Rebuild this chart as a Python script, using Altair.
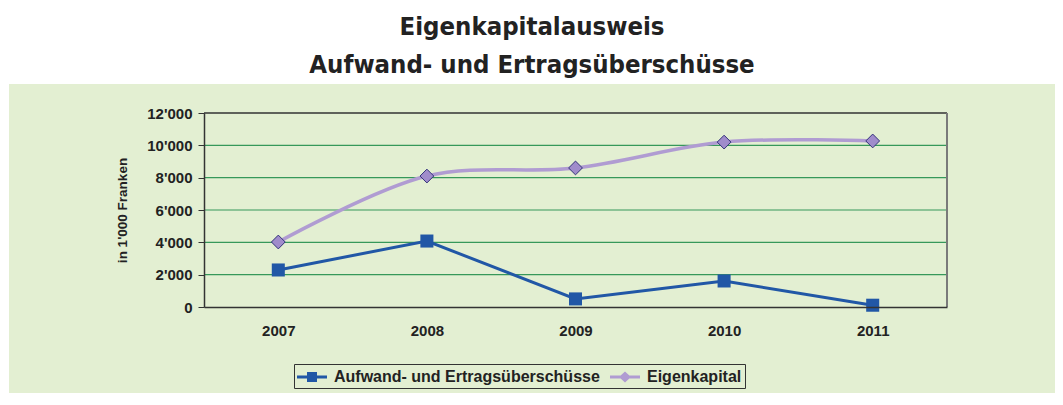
import altair as alt
import pandas as pd

years = ["2007", "2008", "2009", "2010", "2011"]
aufwand = [2290, 4080, 500, 1610, 110]
eigenkapital = [4020, 8100, 8600, 10200, 10270]
series_names = ["Aufwand- und Ertragsüberschüsse", "Eigenkapital"]
grid_values = [2000, 4000, 6000, 8000, 10000]
y_ticks = [0, 2000, 4000, 6000, 8000, 10000, 12000]

BLUE = "#2157a6"
PURPLE = "#b09cd2"
DIAMOND = "#a08ccb"
PANEL = "#e3efd2"
GRID = "#36985a"
FONT = "Liberation Sans"

W, H = 743, 194

df = pd.DataFrame({
    "year": years * 2,
    "series": [series_names[0]] * 5 + [series_names[1]] * 5,
    "value": aufwand + eigenkapital,
})

x_enc = alt.X("year:N", scale=alt.Scale(type="point", padding=0.5, domain=years),
              axis=alt.Axis(title=None, labelAngle=0, ticks=False, labelPadding=16,
                            labelFont=FONT, labelFontSize=15, labelFontWeight="bold",
                            labelColor="#222", domainColor="#333", domainWidth=1.5,
                            grid=False, zindex=1))
y_enc = alt.Y("value:Q", scale=alt.Scale(domain=[0, 12000], nice=False),
              axis=alt.Axis(title="in 1'000 Franken", values=y_ticks,
                            labelExpr="replace(format(datum.value, ','), ',', \"'\")",
                            labelFont=FONT, labelFontSize=15, labelFontWeight="bold",
                            labelColor="#222", tickSize=6, tickColor="#333",
                            labelPadding=6, domainColor="#333", domainWidth=1.5,
                            titleFont=FONT, titleFontSize=13.5, titleFontWeight="bold",
                            titleColor="#222", titlePadding=17, grid=False, zindex=1))

base = alt.Chart(df)

bg = alt.Chart(pd.DataFrame({"a": [0]})).mark_rect(fill=PANEL).encode(
    x=alt.value(-195), x2=alt.value(851), y=alt.value(-29), y2=alt.value(280))

grid = alt.Chart(pd.DataFrame({"value": grid_values})).mark_rule(color=GRID, strokeWidth=1.2).encode(
    y=y_enc)

frame_top = alt.Chart(pd.DataFrame({"a": [0]})).mark_rule(color="#333", strokeWidth=1.5).encode(
    y=alt.value(0))
frame_right = alt.Chart(pd.DataFrame({"a": [0]})).mark_rule(color="#7a7a7a", strokeWidth=2).encode(
    x=alt.value(W))

line_a = base.transform_filter(alt.datum.series == series_names[0]).mark_line(
    color=BLUE, strokeWidth=3).encode(x=x_enc, y=y_enc)
line_e = base.transform_filter(alt.datum.series == series_names[1]).mark_line(
    color=PURPLE, strokeWidth=3.5, interpolate="catmull-rom").encode(x=x_enc, y=y_enc)
pts_a = base.transform_filter(alt.datum.series == series_names[0]).mark_point(
    shape="square", filled=True, size=170, color=BLUE, opacity=1).encode(x=x_enc, y=y_enc)
pts_e = base.transform_filter(alt.datum.series == series_names[1]).mark_point(
    shape="diamond", filled=True, size=190, fill=DIAMOND, stroke="#33337a",
    strokeWidth=1, opacity=1).encode(x=x_enc, y=y_enc)

sq_path = "M-1.5,-0.15H1.5V0.15H-1.5Z M-0.5,-0.5H0.5V0.5H-0.5Z"
di_path = "M-1.5,-0.15H1.5V0.15H-1.5Z M0,-0.55L0.6,0L0,0.55L-0.6,0Z"

legend_layer = base.transform_filter("false").mark_point(filled=True, opacity=1).encode(
    x=x_enc, y=y_enc,
    color=alt.Color("series:N", scale=alt.Scale(domain=series_names, range=[BLUE, PURPLE]),
                    legend=alt.Legend(title=None, orient="none", legendX=90, legendY=251,
                                      direction="horizontal", strokeColor="#333",
                                      fillColor=PANEL, padding=3, symbolSize=400,
                                      symbolStrokeWidth=0, symbolOffset=5, labelOffset=12,
                                      columnPadding=10, labelFont=FONT, labelFontSize=16,
                                      labelFontWeight="bold", labelColor="#222",
                                      labelLimit=400)),
    shape=alt.Shape("series:N", scale=alt.Scale(domain=series_names, range=[sq_path, di_path]),
                    legend=alt.Legend(title=None, orient="none", legendX=90, legendY=251,
                                      direction="horizontal"))
)

chart = alt.layer(bg, grid, frame_top, frame_right, line_a, line_e, pts_a, pts_e, legend_layer).properties(
    width=W, height=H,
    title=alt.TitleParams(["Eigenkapitalausweis", "Aufwand- und Ertragsüberschüsse"],
                          anchor="middle", frame="bounds",
                          font="DejaVu Sans Condensed, Liberation Sans, sans-serif",
                          fontSize=25.5, fontWeight="bold", color="#222", lineHeight=38, offset=6),
    autosize=alt.AutoSizeParams(type="none"),
    padding={"left": 196, "top": 105, "right": 108, "bottom": 86},
).configure_view(stroke=None).configure(background="white")

chart.save("out.html", embed_options={"renderer": "svg", "actions": False})
